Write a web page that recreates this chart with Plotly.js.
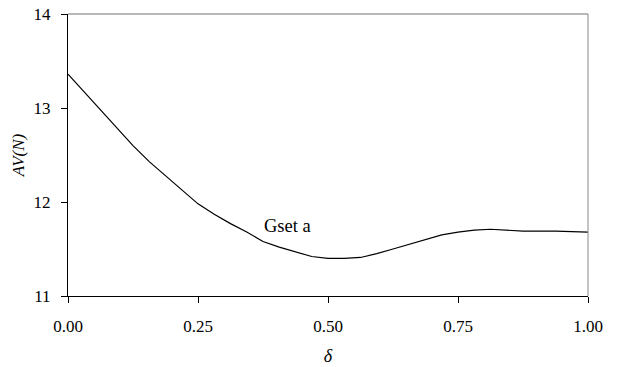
<!DOCTYPE html>
<html>
<head>
<meta charset="utf-8">
<script src="https://cdn.plot.ly/plotly-3.0.1.min.js"></script>
<style>html,body{margin:0;padding:0;background:#fff;}#chart{width:618px;height:367px;}</style>
</head>
<body>
<div id="chart"></div>
<script>
const delta = [0.00, 0.0625, 0.125, 0.15625, 0.1875, 0.21875, 0.25, 0.28125, 0.3125, 0.34375, 0.375, 0.40625, 0.4375, 0.46875, 0.50, 0.53125, 0.5625, 0.59375, 0.625, 0.65625, 0.6875, 0.71875, 0.75, 0.78125, 0.8125, 0.84375, 0.875, 0.9375, 1.00];
const avN = [13.36, 12.98, 12.60, 12.43, 12.28, 12.12, 11.98, 11.87, 11.77, 11.68, 11.58, 11.52, 11.47, 11.42, 11.40, 11.40, 11.41, 11.45, 11.50, 11.55, 11.60, 11.65, 11.68, 11.70, 11.71, 11.70, 11.69, 11.69, 11.68];
const xTicks = [0, 0.25, 0.5, 0.75, 1.0];
const xTickText = ["0.00", "0.25", "0.50", "0.75", "1.00"];
const yTicks = [11, 12, 13, 14];
const seriesLabel = "Gset a";
const labelPos = {x: 0.423, y: 11.745};

(function () {
  const fam = "Liberation Serif";
  Plotly.newPlot("chart", [{
    x: delta, y: avN, type: "scatter", mode: "lines",
    line: {color: "#000", width: 1.2, shape: "linear"},
    hoverinfo: "none", showlegend: false
  }], {
    width: 618, height: 367,
    margin: {l: 68, r: 30, t: 14, b: 71},
    paper_bgcolor: "#fff", plot_bgcolor: "#fff",
    font: {family: fam, size: 17, color: "#000"},
    xaxis: {
      range: [0, 1], tickvals: xTicks, ticktext: xTickText,
      showgrid: false, zeroline: false, showline: true, linecolor: "#000", linewidth: 1,
      ticks: "outside", ticklen: 6, tickcolor: "#000", tickwidth: 1,
      ticklabelstandoff: 9,
      tickfont: {family: fam, size: 17, color: "#000"},
      title: {text: "<i>δ</i>", font: {family: fam, size: 18, color: "#000"}, standoff: 13}
    },
    yaxis: {
      range: [11, 14], tickvals: yTicks,
      showgrid: false, zeroline: false, showline: true, linecolor: "#000", linewidth: 1,
      ticks: "outside", ticklen: 6, tickcolor: "#000", tickwidth: 1,
      ticklabelstandoff: 7,
      tickfont: {family: fam, size: 17, color: "#000"},
      title: {text: "<i>AV(N)</i>", font: {family: fam, size: 17, color: "#000"}, standoff: 4}
    },
    shapes: [
      {type: "line", xref: "paper", yref: "paper", x0: 0, x1: 1, y0: 1, y1: 1, line: {color: "#a0a0a0", width: 1.3}},
      {type: "line", xref: "paper", yref: "paper", x0: 1, x1: 1, y0: 0, y1: 1, line: {color: "#8a8a8a", width: 1}}
    ],
    annotations: [{
      x: labelPos.x, y: labelPos.y, xref: "x", yref: "y", text: seriesLabel, showarrow: false,
      font: {family: fam, size: 18.5, color: "#000"}
    }]
  }, {displayModeBar: false, staticPlot: true});
})();
</script>
</body>
</html>
